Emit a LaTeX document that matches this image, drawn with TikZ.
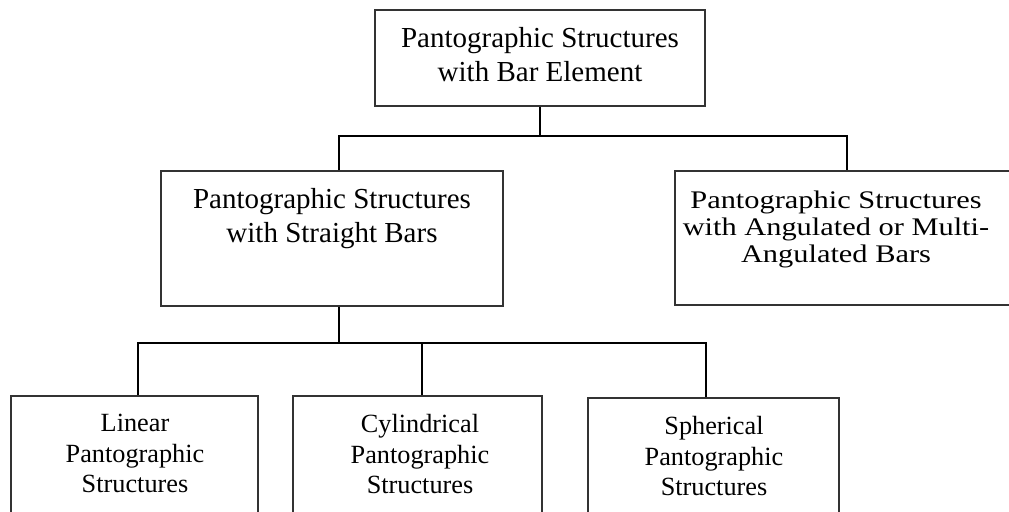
\documentclass[tikz,border=0pt]{standalone}
\usepackage{fontspec}
\setmainfont{Liberation Serif}
\usetikzlibrary{fit}
\definecolor{boxline}{HTML}{333333}
\begin{document}
\begin{tikzpicture}[x=0.75pt,y=-0.75pt,
  box/.style={draw=boxline,line width=1pt,inner sep=0pt,fill=none},
  conn/.style={draw=black,line width=1.6pt},
  bigtxt/.style={inner sep=0pt,anchor=north,align=center,font=\fontsize{21.75pt}{25.5pt}\selectfont},
  smalltxt/.style={inner sep=0pt,anchor=north,align=center,font=\fontsize{19.7pt}{22.9pt}\selectfont},
  righttxt/.style={inner sep=0pt,anchor=north,align=center,font=\fontsize{19pt}{20.25pt}\selectfont}]
\clip (0,0) rectangle (1009,511);
\fill[white] (0,0) rectangle (1009,511);
% boxes
\node[box,fit={(375,10)(705,106)}] (top) {};
\node[box,fit={(161,171)(503,306)}] (ml) {};
\node[box,fit={(675,171)(1012,305)}] (rb) {};
\node[box,fit={(11,396)(258,530)}] (lin) {};
\node[box,fit={(293,396)(542,530)}] (cyl) {};
\node[box,fit={(588,398)(839,530)}] (sph) {};
% texts
\node[bigtxt] (ttop) at (540,27.2) {Pantographic Structures\\with Bar Element};
\node[bigtxt] (tml) at (332,188.2) {Pantographic Structures\\with Straight Bars};
\begin{scope}[shift={(836,190.7)}]
\node[righttxt,xscale=1.2,transform shape] (trb) at (0,0) {Pantographic Structures\\with Angulated or Multi-\\Angulated Bars};
\end{scope}
\node[smalltxt] (tlin) at (135,414) {Linear\\Pantographic\\Structures};
\node[smalltxt] (tcyl) at (420,414) {Cylindrical\\Pantographic\\Structures};
\node[smalltxt] (tsph) at (714,416) {Spherical\\Pantographic\\Structures};
% connectors
\coordinate (b1) at (339,136);
\coordinate (b2) at (847,136);
\coordinate (c1) at (138,343);
\coordinate (c2) at (422,343);
\coordinate (c3) at (706,343);
\draw[conn] (top.south) -- (top.south |- b1);
\draw[conn] (ml.north -| b1) -- (b1) -- (b2) -- (rb.north -| b2);
\draw[conn] (b1 |- ml.south) -- (b1 |- c1);
\draw[conn] (lin.north -| c1) -- (c1) -- (c3) -- (sph.north -| c3);
\draw[conn] (c2) -- (cyl.north -| c2);
\end{tikzpicture}
\end{document}
